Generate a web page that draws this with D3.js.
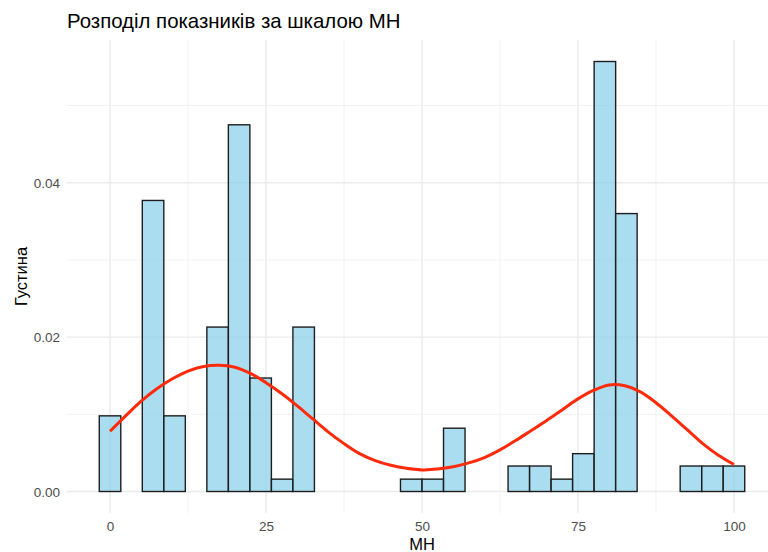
<!DOCTYPE html>
<html>
<head>
<meta charset="utf-8">
<script src="https://cdn.jsdelivr.net/npm/d3@7/dist/d3.min.js"></script>
<style>
  html, body { margin: 0; padding: 0; background: #fff; }
  svg { display: block; }
  text { font-family: "Liberation Sans", Arial, Helvetica, sans-serif; }
</style>
</head>
<body>
<svg id="chart" width="768" height="552"></svg>
<script>
// Histogram bins (30 bins of width 100/29 centred on 0 … 100) and their densities
const binWidth = 100 / 29;
const binCenters = d3.range(30).map(k => k * binWidth);
const binDensity = [
  0.0098, 0.0000, 0.0377, 0.0098, 0.0000, 0.0213, 0.0475, 0.0147, 0.0016, 0.0213,
  0.0000, 0.0000, 0.0000, 0.0000, 0.0016, 0.0016, 0.0082, 0.0000, 0.0000, 0.0033,
  0.0033, 0.0016, 0.0049, 0.0557, 0.0360, 0.0000, 0.0000, 0.0033, 0.0033, 0.0033
];

// Smoothed density curve
const curveX = [0, 2.5, 5, 7.5, 10, 12.5, 15, 17.5, 20, 22.5, 25, 27.5, 30, 32.5, 35, 37.5,
  40, 42.5, 45, 47.5, 50, 52.5, 55, 57.5, 60, 62.5, 65, 67.5, 70, 72.5, 75, 77.5, 80,
  82.5, 85, 87.5, 90, 92.5, 95, 97.5, 100];
const curveY = [0.0078, 0.0098, 0.0117, 0.0133, 0.0146, 0.0156, 0.0162, 0.01635, 0.0161, 0.0153,
  0.0141, 0.0127, 0.0111, 0.0094, 0.0077, 0.0062, 0.0049, 0.0040, 0.0034, 0.0030, 0.0028,
  0.0029, 0.0032, 0.0037, 0.0044, 0.0054, 0.0066, 0.0079, 0.0092, 0.0106, 0.0120, 0.0131,
  0.0138, 0.0137, 0.0129, 0.0115, 0.0098, 0.0080, 0.0062, 0.0047, 0.0035];

const xTicks = [0, 25, 50, 75, 100];
const xMinor = [12.5, 37.5, 62.5, 87.5];
const yTicks = [0, 0.02, 0.04];
const yMinor = [0.01, 0.03, 0.05];

const titleText = "Розподіл показників за шкалою МН";
const xTitle = "МН";
const yTitle = "Густина";

const svg = d3.select("#chart");

// Panel with 5% expansion on both axes
const panel = { left: 67, right: 777, top: 40, bottom: 513 };
const xLo = -binWidth / 2, xHi = 100 + binWidth / 2;
const xPad = (xHi - xLo) * 0.05;
const yMax = d3.max(binDensity);
const yPad = yMax * 0.05;

const x = d3.scaleLinear().domain([xLo - xPad, xHi + xPad]).range([panel.left, panel.right]);
const y = d3.scaleLinear().domain([-yPad, yMax + yPad]).range([panel.bottom, panel.top]);

// Grid
const grid = svg.append("g");
grid.selectAll(".vminor").data(xMinor).enter().append("line")
  .attr("x1", d => x(d)).attr("x2", d => x(d))
  .attr("y1", panel.top).attr("y2", panel.bottom)
  .attr("stroke", "#f2f2f2").attr("stroke-width", 1);
grid.selectAll(".hminor").data(yMinor).enter().append("line")
  .attr("y1", d => y(d)).attr("y2", d => y(d))
  .attr("x1", panel.left).attr("x2", panel.right)
  .attr("stroke", "#f2f2f2").attr("stroke-width", 1);
grid.selectAll(".vmajor").data(xTicks).enter().append("line")
  .attr("x1", d => x(d)).attr("x2", d => x(d))
  .attr("y1", panel.top).attr("y2", panel.bottom)
  .attr("stroke", "#ebebeb").attr("stroke-width", 1.4);
grid.selectAll(".hmajor").data(yTicks).enter().append("line")
  .attr("y1", d => y(d)).attr("y2", d => y(d))
  .attr("x1", panel.left).attr("x2", panel.right)
  .attr("stroke", "#ebebeb").attr("stroke-width", 1.4);

// Bars
const bins = binCenters.map((c, i) => ({ c, d: binDensity[i] }));
svg.append("g").selectAll("rect").data(bins).enter().append("rect")
  .attr("x", d => x(d.c - binWidth / 2))
  .attr("width", d => x(d.c + binWidth / 2) - x(d.c - binWidth / 2))
  .attr("y", d => y(d.d))
  .attr("height", d => y(0) - y(d.d))
  .attr("fill", "#87ceeb").attr("fill-opacity", 0.7)
  .attr("stroke", "#1e1e1e").attr("stroke-width", 1.4);

// Density curve
const line = d3.line()
  .x((d, i) => x(curveX[i]))
  .y(d => y(d))
  .curve(d3.curveCatmullRom.alpha(0.5));
svg.append("path").datum(curveY)
  .attr("d", line)
  .attr("fill", "none")
  .attr("stroke", "#ff2a0a")
  .attr("stroke-width", 3)
  .attr("stroke-linecap", "butt");

// Axis labels
const xAxis = d3.axisBottom(x).tickValues(xTicks).tickSize(0).tickPadding(0).tickFormat(d3.format("d"));
const gx = svg.append("g").attr("transform", `translate(0,${panel.bottom})`).call(xAxis);
gx.select(".domain").remove();
gx.selectAll("text").attr("dy", null).attr("y", 18)
  .attr("fill", "#4d4d4d").attr("font-size", 13.5)
  .attr("font-family", "'Liberation Sans', Arial, sans-serif");

const yAxis = d3.axisLeft(y).tickValues(yTicks).tickSize(0).tickPadding(0).tickFormat(d3.format(".2f"));
const gy = svg.append("g").attr("transform", `translate(60,0)`).call(yAxis);
gy.select(".domain").remove();
gy.selectAll("text").attr("dy", "0.35em").attr("x", 0)
  .attr("fill", "#4d4d4d").attr("font-size", 13.5)
  .attr("font-family", "'Liberation Sans', Arial, sans-serif");

// Titles
svg.append("text").attr("x", 67).attr("y", 28)
  .attr("font-size", 20.4).attr("fill", "#000").text(titleText);
svg.append("text").attr("x", (x(0) + x(100)) / 2).attr("y", 550)
  .attr("text-anchor", "middle").attr("font-size", 16.5).attr("fill", "#000").text(xTitle);
svg.append("text")
  .attr("transform", `translate(26.5,${(panel.top + panel.bottom) / 2}) rotate(-90)`)
  .attr("text-anchor", "middle").attr("font-size", 16.5).attr("fill", "#000").text(yTitle);
</script>
</body>
</html>
